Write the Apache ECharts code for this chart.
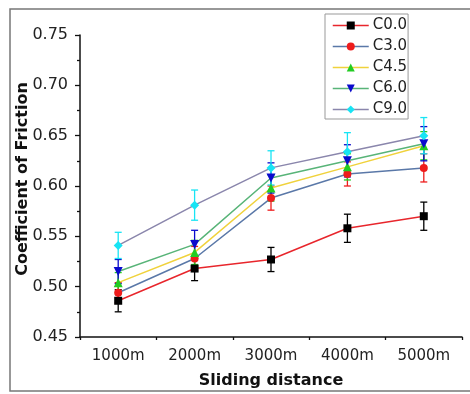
<!DOCTYPE html>
<html>
<head>
<meta charset="utf-8">
<script src="https://cdn.jsdelivr.net/npm/echarts@6/dist/echarts.min.js"></script>
<style>html,body{margin:0;padding:0;background:#fff}#c{width:470px;height:394px}</style>
</head>
<body>
<div id="c"></div>
<script>
const categories = ['1000m', '2000m', '3000m', '4000m', '5000m'];
const seriesNames = ['C0.0', 'C3.0', 'C4.5', 'C6.0', 'C9.0'];
const c00 = [0.486, 0.518, 0.527, 0.558, 0.570];
const c30 = [0.494, 0.528, 0.588, 0.612, 0.618];
const c45 = [0.504, 0.534, 0.598, 0.619, 0.640];
const c60 = [0.515, 0.542, 0.608, 0.625, 0.642];
const c90 = [0.541, 0.581, 0.618, 0.634, 0.650];
const e00 = [0.011, 0.012, 0.012, 0.014, 0.014];
const e30 = [0.010, 0.012, 0.012, 0.012, 0.014];
const e45 = [0.010, 0.012, 0.013, 0.013, 0.014];
const e60 = [0.012, 0.014, 0.015, 0.016, 0.017];
const e90 = [0.013, 0.015, 0.017, 0.019, 0.018];
const yTicks = ['0.45', '0.50', '0.55', '0.60', '0.65', '0.70', '0.75'];

const values = [c00, c30, c45, c60, c90];
const errors = [e00, e30, e45, e60, e90];
const lineColors = ['#e8262c', '#5a78a8', '#f0d23c', '#58b478', '#8a86ac'];
const markerColors = ['#000000', '#ee1c1c', '#22cc22', '#0a0acc', '#18e4f4'];
const symbols = ['rect', 'circle', 'triangle', 'triangle', 'diamond'];
const rotates = [0, 0, 0, 180, 0];
const sizes = [8, 8, 9, 9, 9];

const chart = echarts.init(document.getElementById('c'), null, {renderer: 'canvas'});
const font = 'DejaVu Sans, sans-serif';

const series = [];
values.forEach((vals, i) => {
  series.push({
    type: 'custom',
    name: seriesNames[i] + '_err',
    z: 1,
    silent: true,
    renderItem: function (params, api) {
      const x = api.value(0);
      const lo = api.coord([x, api.value(1)]);
      const hi = api.coord([x, api.value(2)]);
      const w = 3.5;
      const st = {stroke: markerColors[i], lineWidth: 1.3};
      return {
        type: 'group',
        children: [
          {type: 'line', shape: {x1: lo[0], y1: lo[1], x2: hi[0], y2: hi[1]}, style: st},
          {type: 'line', shape: {x1: lo[0] - w, y1: lo[1], x2: lo[0] + w, y2: lo[1]}, style: st},
          {type: 'line', shape: {x1: hi[0] - w, y1: hi[1], x2: hi[0] + w, y2: hi[1]}, style: st}
        ]
      };
    },
    data: vals.map((v, k) => [k, v - errors[i][k], v + errors[i][k]])
  });
});
values.forEach((vals, i) => {
  series.push({
    type: 'line',
    name: seriesNames[i],
    z: 3,
    data: vals,
    symbol: symbols[i],
    symbolRotate: rotates[i],
    symbolSize: sizes[i],
    showAllSymbol: true,
    lineStyle: {color: lineColors[i], width: 1.5},
    itemStyle: {color: markerColors[i], borderWidth: 0},
    emphasis: {disabled: true}
  });
});

chart.setOption({
  animation: false,
  backgroundColor: '#fff',
  textStyle: {fontFamily: font},
  graphic: [{
    type: 'rect',
    shape: {x: 10, y: 9, width: 470, height: 382},
    style: {fill: 'none', stroke: '#777', lineWidth: 1.5},
    silent: true
  }],
  legend: {
    data: seriesNames.map((n, i) => ({name: n, itemStyle: {color: markerColors[i]}, lineStyle: {color: lineColors[i], width: 1.5}})),
    orient: 'vertical',
    left: 325,
    top: 14,
    itemWidth: 36,
    itemHeight: 10,
    itemGap: 6,
    padding: [4, 1, 2, 7],
    borderColor: '#999',
    borderWidth: 1,
    textStyle: {fontSize: 15, lineHeight: 14, color: '#222', fontFamily: font, padding: [0, 0, 0, -1]}
  },
  grid: {left: 80, top: 35, width: 382, height: 307, containLabel: false},
  xAxis: [{
    type: 'category',
    data: categories,
    boundaryGap: true,
    name: 'Sliding distance',
    nameLocation: 'middle',
    nameGap: 36,
    nameTextStyle: {fontSize: 16, fontWeight: 'bold', color: '#111', fontFamily: font},
    axisLine: {lineStyle: {color: '#111', width: 1.5}},
    axisTick: {alignWithLabel: true, length: 5, lineStyle: {color: '#111', width: 1.3}},
    axisLabel: {fontSize: 15, color: '#222', margin: 12, fontFamily: font},
    splitLine: {show: false}
  }, {
    type: 'category',
    data: categories,
    boundaryGap: true,
    position: 'bottom',
    axisLine: {show: false},
    axisTick: {show: true, length: 3, lineStyle: {color: '#111', width: 1.3}},
    axisLabel: {show: false},
    splitLine: {show: false}
  }],
  yAxis: {
    type: 'value',
    min: 0.45,
    max: 0.75,
    interval: 0.05,
    name: 'Coefficient of Friction',
    nameLocation: 'middle',
    nameGap: 49,
    nameMoveOverlap: false,
    nameTextStyle: {fontSize: 16, fontWeight: 'bold', color: '#111', fontFamily: font, padding: [0, 0, 0, 14]},
    axisLine: {show: true, lineStyle: {color: '#111', width: 1.5}},
    axisTick: {show: true, length: 5, lineStyle: {color: '#111', width: 1.3}},
    minorTick: {show: true, splitNumber: 2, length: 3, lineStyle: {color: '#111', width: 1.3}},
    axisLabel: {fontSize: 16, color: '#222', margin: 12, fontFamily: font,
      formatter: function (v) { const s = v.toFixed(2); return yTicks.indexOf(s) >= 0 ? s : ''; }},
    splitLine: {show: false}
  },
  series: series
});
</script>
</body>
</html>
